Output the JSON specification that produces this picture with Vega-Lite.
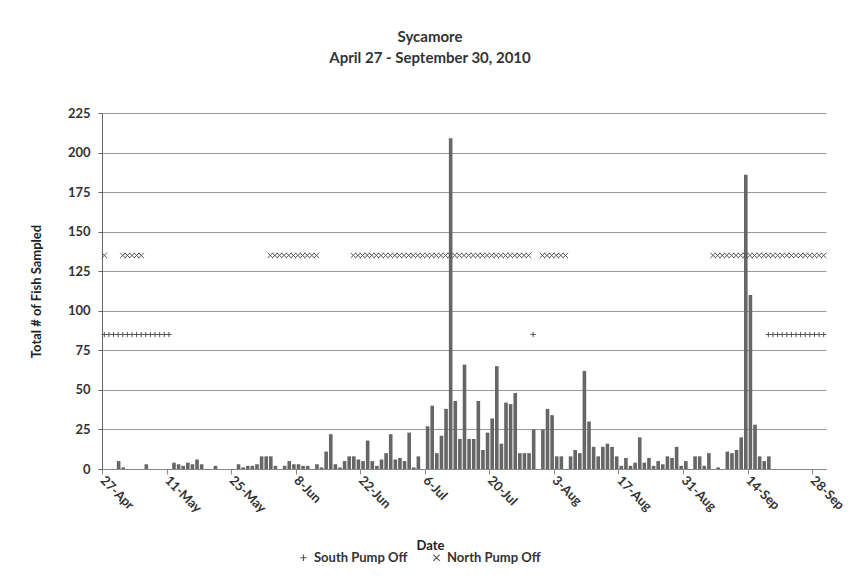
{
  "$schema": "https://vega.github.io/schema/vega-lite/v6.json",
  "width": 724,
  "height": 356,
  "autosize": {"type": "none"},
  "padding": {"left": 102, "top": 113, "right": 36, "bottom": 109},
  "background": "white",
  "title": {
    "text": ["Sycamore", "April 27 - September 30, 2010"],
    "font": "Lato", "fontSize": 15, "fontWeight": "bold", "color": "#333333",
    "lineHeight": 21, "anchor": "middle", "dx": -34, "offset": 41
  },
  "config": {
    "view": {"stroke": null},
    "font": "Lato",
    "axisX": {
      "format": "%-d-%b", "formatType": "utc",
      "labelAngle": 45, "labelAlign": "left", "labelBaseline": "middle",
      "labelFontSize": 13, "labelFontWeight": "bold", "labelColor": "#333333", "labelPadding": 4, "labelFlush": false, "labelOverlap": false,
      "grid": false, "domainColor": "#888888", "tickColor": "#888888", "tickSize": 5,
      "titleFontSize": 13, "titleFontWeight": "bold", "titleColor": "#222222",
      "titleX": 328, "titleY": 76, "titleAlign": "center", "titleBaseline": "middle"
    },
    "axisY": {
      "grid": true, "gridColor": "#999999", "gridWidth": 1, "labelOverlap": false,
      "domainColor": "#666666", "tickColor": "#666666", "tickSize": 4,
      "labelFontSize": 13, "labelFontWeight": "bold", "labelColor": "#333333", "labelPadding": 8,
      "titleFontSize": 13, "titleFontWeight": "bold", "titleColor": "#222222",
      "titlePadding": 24
    }
  },
  "datasets": {
    "fish": [
      {"date": "2010-04-30", "fish": 5}, {"date": "2010-05-01", "fish": 1}, {"date": "2010-05-06", "fish": 3},
      {"date": "2010-05-12", "fish": 4}, {"date": "2010-05-13", "fish": 3}, {"date": "2010-05-14", "fish": 2},
      {"date": "2010-05-15", "fish": 4}, {"date": "2010-05-16", "fish": 3}, {"date": "2010-05-17", "fish": 6},
      {"date": "2010-05-18", "fish": 3}, {"date": "2010-05-21", "fish": 2}, {"date": "2010-05-26", "fish": 3},
      {"date": "2010-05-27", "fish": 1}, {"date": "2010-05-28", "fish": 2}, {"date": "2010-05-29", "fish": 2},
      {"date": "2010-05-30", "fish": 3}, {"date": "2010-05-31", "fish": 8}, {"date": "2010-06-01", "fish": 8},
      {"date": "2010-06-02", "fish": 8}, {"date": "2010-06-03", "fish": 2}, {"date": "2010-06-05", "fish": 2},
      {"date": "2010-06-06", "fish": 5}, {"date": "2010-06-07", "fish": 3}, {"date": "2010-06-08", "fish": 3},
      {"date": "2010-06-09", "fish": 2}, {"date": "2010-06-10", "fish": 2}, {"date": "2010-06-12", "fish": 3},
      {"date": "2010-06-13", "fish": 1}, {"date": "2010-06-14", "fish": 11}, {"date": "2010-06-15", "fish": 22},
      {"date": "2010-06-16", "fish": 3}, {"date": "2010-06-17", "fish": 1}, {"date": "2010-06-18", "fish": 5},
      {"date": "2010-06-19", "fish": 8}, {"date": "2010-06-20", "fish": 8}, {"date": "2010-06-21", "fish": 6},
      {"date": "2010-06-22", "fish": 5}, {"date": "2010-06-23", "fish": 18}, {"date": "2010-06-24", "fish": 5},
      {"date": "2010-06-25", "fish": 2}, {"date": "2010-06-26", "fish": 6}, {"date": "2010-06-27", "fish": 10},
      {"date": "2010-06-28", "fish": 22}, {"date": "2010-06-29", "fish": 6}, {"date": "2010-06-30", "fish": 7},
      {"date": "2010-07-01", "fish": 5}, {"date": "2010-07-02", "fish": 23}, {"date": "2010-07-03", "fish": 1},
      {"date": "2010-07-04", "fish": 8}, {"date": "2010-07-06", "fish": 27}, {"date": "2010-07-07", "fish": 40},
      {"date": "2010-07-08", "fish": 10}, {"date": "2010-07-09", "fish": 21}, {"date": "2010-07-10", "fish": 38},
      {"date": "2010-07-11", "fish": 209}, {"date": "2010-07-12", "fish": 43}, {"date": "2010-07-13", "fish": 19},
      {"date": "2010-07-14", "fish": 66}, {"date": "2010-07-15", "fish": 19}, {"date": "2010-07-16", "fish": 19},
      {"date": "2010-07-17", "fish": 43}, {"date": "2010-07-18", "fish": 12}, {"date": "2010-07-19", "fish": 23},
      {"date": "2010-07-20", "fish": 32}, {"date": "2010-07-21", "fish": 65}, {"date": "2010-07-22", "fish": 16},
      {"date": "2010-07-23", "fish": 42}, {"date": "2010-07-24", "fish": 41}, {"date": "2010-07-25", "fish": 48},
      {"date": "2010-07-26", "fish": 10}, {"date": "2010-07-27", "fish": 10}, {"date": "2010-07-28", "fish": 10},
      {"date": "2010-07-29", "fish": 25}, {"date": "2010-07-31", "fish": 25}, {"date": "2010-08-01", "fish": 38},
      {"date": "2010-08-02", "fish": 34}, {"date": "2010-08-03", "fish": 8}, {"date": "2010-08-04", "fish": 8},
      {"date": "2010-08-06", "fish": 8}, {"date": "2010-08-07", "fish": 12}, {"date": "2010-08-08", "fish": 10},
      {"date": "2010-08-09", "fish": 62}, {"date": "2010-08-10", "fish": 30}, {"date": "2010-08-11", "fish": 14},
      {"date": "2010-08-12", "fish": 8}, {"date": "2010-08-13", "fish": 14}, {"date": "2010-08-14", "fish": 16},
      {"date": "2010-08-15", "fish": 14}, {"date": "2010-08-16", "fish": 8}, {"date": "2010-08-17", "fish": 2},
      {"date": "2010-08-18", "fish": 7}, {"date": "2010-08-19", "fish": 2}, {"date": "2010-08-20", "fish": 4},
      {"date": "2010-08-21", "fish": 20}, {"date": "2010-08-22", "fish": 4}, {"date": "2010-08-23", "fish": 7},
      {"date": "2010-08-24", "fish": 2}, {"date": "2010-08-25", "fish": 5}, {"date": "2010-08-26", "fish": 3},
      {"date": "2010-08-27", "fish": 8}, {"date": "2010-08-28", "fish": 7}, {"date": "2010-08-29", "fish": 14},
      {"date": "2010-08-30", "fish": 2}, {"date": "2010-08-31", "fish": 5}, {"date": "2010-09-02", "fish": 8},
      {"date": "2010-09-03", "fish": 8}, {"date": "2010-09-04", "fish": 2}, {"date": "2010-09-05", "fish": 10},
      {"date": "2010-09-07", "fish": 1}, {"date": "2010-09-09", "fish": 11}, {"date": "2010-09-10", "fish": 10},
      {"date": "2010-09-11", "fish": 12}, {"date": "2010-09-12", "fish": 20}, {"date": "2010-09-13", "fish": 186},
      {"date": "2010-09-14", "fish": 110}, {"date": "2010-09-15", "fish": 28}, {"date": "2010-09-16", "fish": 8},
      {"date": "2010-09-17", "fish": 5}, {"date": "2010-09-18", "fish": 8}
    ],
    "pumps": [
      {"date": "2010-04-27", "pump": "South Pump Off", "level": 85}, {"date": "2010-04-28", "pump": "South Pump Off", "level": 85},
      {"date": "2010-04-29", "pump": "South Pump Off", "level": 85}, {"date": "2010-04-30", "pump": "South Pump Off", "level": 85},
      {"date": "2010-05-01", "pump": "South Pump Off", "level": 85}, {"date": "2010-05-02", "pump": "South Pump Off", "level": 85},
      {"date": "2010-05-03", "pump": "South Pump Off", "level": 85}, {"date": "2010-05-04", "pump": "South Pump Off", "level": 85},
      {"date": "2010-05-05", "pump": "South Pump Off", "level": 85}, {"date": "2010-05-06", "pump": "South Pump Off", "level": 85},
      {"date": "2010-05-07", "pump": "South Pump Off", "level": 85}, {"date": "2010-05-08", "pump": "South Pump Off", "level": 85},
      {"date": "2010-05-09", "pump": "South Pump Off", "level": 85}, {"date": "2010-05-10", "pump": "South Pump Off", "level": 85},
      {"date": "2010-05-11", "pump": "South Pump Off", "level": 85},
      {"date": "2010-07-29", "pump": "South Pump Off", "level": 85},
      {"date": "2010-09-18", "pump": "South Pump Off", "level": 85}, {"date": "2010-09-19", "pump": "South Pump Off", "level": 85},
      {"date": "2010-09-20", "pump": "South Pump Off", "level": 85}, {"date": "2010-09-21", "pump": "South Pump Off", "level": 85},
      {"date": "2010-09-22", "pump": "South Pump Off", "level": 85}, {"date": "2010-09-23", "pump": "South Pump Off", "level": 85},
      {"date": "2010-09-24", "pump": "South Pump Off", "level": 85}, {"date": "2010-09-25", "pump": "South Pump Off", "level": 85},
      {"date": "2010-09-26", "pump": "South Pump Off", "level": 85}, {"date": "2010-09-27", "pump": "South Pump Off", "level": 85},
      {"date": "2010-09-28", "pump": "South Pump Off", "level": 85}, {"date": "2010-09-29", "pump": "South Pump Off", "level": 85},
      {"date": "2010-09-30", "pump": "South Pump Off", "level": 85},
      {"date": "2010-04-27", "pump": "North Pump Off", "level": 135},
      {"date": "2010-05-01", "pump": "North Pump Off", "level": 135}, {"date": "2010-05-02", "pump": "North Pump Off", "level": 135},
      {"date": "2010-05-03", "pump": "North Pump Off", "level": 135}, {"date": "2010-05-04", "pump": "North Pump Off", "level": 135},
      {"date": "2010-05-05", "pump": "North Pump Off", "level": 135},
      {"date": "2010-06-02", "pump": "North Pump Off", "level": 135}, {"date": "2010-06-03", "pump": "North Pump Off", "level": 135},
      {"date": "2010-06-04", "pump": "North Pump Off", "level": 135}, {"date": "2010-06-05", "pump": "North Pump Off", "level": 135},
      {"date": "2010-06-06", "pump": "North Pump Off", "level": 135}, {"date": "2010-06-07", "pump": "North Pump Off", "level": 135},
      {"date": "2010-06-08", "pump": "North Pump Off", "level": 135}, {"date": "2010-06-09", "pump": "North Pump Off", "level": 135},
      {"date": "2010-06-10", "pump": "North Pump Off", "level": 135}, {"date": "2010-06-11", "pump": "North Pump Off", "level": 135},
      {"date": "2010-06-12", "pump": "North Pump Off", "level": 135},
      {"date": "2010-06-20", "pump": "North Pump Off", "level": 135}, {"date": "2010-06-21", "pump": "North Pump Off", "level": 135},
      {"date": "2010-06-22", "pump": "North Pump Off", "level": 135}, {"date": "2010-06-23", "pump": "North Pump Off", "level": 135},
      {"date": "2010-06-24", "pump": "North Pump Off", "level": 135}, {"date": "2010-06-25", "pump": "North Pump Off", "level": 135},
      {"date": "2010-06-26", "pump": "North Pump Off", "level": 135}, {"date": "2010-06-27", "pump": "North Pump Off", "level": 135},
      {"date": "2010-06-28", "pump": "North Pump Off", "level": 135}, {"date": "2010-06-29", "pump": "North Pump Off", "level": 135},
      {"date": "2010-06-30", "pump": "North Pump Off", "level": 135}, {"date": "2010-07-01", "pump": "North Pump Off", "level": 135},
      {"date": "2010-07-02", "pump": "North Pump Off", "level": 135}, {"date": "2010-07-03", "pump": "North Pump Off", "level": 135},
      {"date": "2010-07-04", "pump": "North Pump Off", "level": 135}, {"date": "2010-07-05", "pump": "North Pump Off", "level": 135},
      {"date": "2010-07-06", "pump": "North Pump Off", "level": 135}, {"date": "2010-07-07", "pump": "North Pump Off", "level": 135},
      {"date": "2010-07-08", "pump": "North Pump Off", "level": 135}, {"date": "2010-07-09", "pump": "North Pump Off", "level": 135},
      {"date": "2010-07-10", "pump": "North Pump Off", "level": 135}, {"date": "2010-07-11", "pump": "North Pump Off", "level": 135},
      {"date": "2010-07-12", "pump": "North Pump Off", "level": 135}, {"date": "2010-07-13", "pump": "North Pump Off", "level": 135},
      {"date": "2010-07-14", "pump": "North Pump Off", "level": 135}, {"date": "2010-07-15", "pump": "North Pump Off", "level": 135},
      {"date": "2010-07-16", "pump": "North Pump Off", "level": 135}, {"date": "2010-07-17", "pump": "North Pump Off", "level": 135},
      {"date": "2010-07-18", "pump": "North Pump Off", "level": 135}, {"date": "2010-07-19", "pump": "North Pump Off", "level": 135},
      {"date": "2010-07-20", "pump": "North Pump Off", "level": 135}, {"date": "2010-07-21", "pump": "North Pump Off", "level": 135},
      {"date": "2010-07-22", "pump": "North Pump Off", "level": 135}, {"date": "2010-07-23", "pump": "North Pump Off", "level": 135},
      {"date": "2010-07-24", "pump": "North Pump Off", "level": 135}, {"date": "2010-07-25", "pump": "North Pump Off", "level": 135},
      {"date": "2010-07-26", "pump": "North Pump Off", "level": 135}, {"date": "2010-07-27", "pump": "North Pump Off", "level": 135},
      {"date": "2010-07-28", "pump": "North Pump Off", "level": 135},
      {"date": "2010-07-31", "pump": "North Pump Off", "level": 135}, {"date": "2010-08-01", "pump": "North Pump Off", "level": 135},
      {"date": "2010-08-02", "pump": "North Pump Off", "level": 135}, {"date": "2010-08-03", "pump": "North Pump Off", "level": 135},
      {"date": "2010-08-04", "pump": "North Pump Off", "level": 135}, {"date": "2010-08-05", "pump": "North Pump Off", "level": 135},
      {"date": "2010-09-06", "pump": "North Pump Off", "level": 135}, {"date": "2010-09-07", "pump": "North Pump Off", "level": 135},
      {"date": "2010-09-08", "pump": "North Pump Off", "level": 135}, {"date": "2010-09-09", "pump": "North Pump Off", "level": 135},
      {"date": "2010-09-10", "pump": "North Pump Off", "level": 135}, {"date": "2010-09-11", "pump": "North Pump Off", "level": 135},
      {"date": "2010-09-12", "pump": "North Pump Off", "level": 135}, {"date": "2010-09-13", "pump": "North Pump Off", "level": 135},
      {"date": "2010-09-14", "pump": "North Pump Off", "level": 135}, {"date": "2010-09-15", "pump": "North Pump Off", "level": 135},
      {"date": "2010-09-16", "pump": "North Pump Off", "level": 135}, {"date": "2010-09-17", "pump": "North Pump Off", "level": 135},
      {"date": "2010-09-18", "pump": "North Pump Off", "level": 135}, {"date": "2010-09-19", "pump": "North Pump Off", "level": 135},
      {"date": "2010-09-20", "pump": "North Pump Off", "level": 135}, {"date": "2010-09-21", "pump": "North Pump Off", "level": 135},
      {"date": "2010-09-22", "pump": "North Pump Off", "level": 135}, {"date": "2010-09-23", "pump": "North Pump Off", "level": 135},
      {"date": "2010-09-24", "pump": "North Pump Off", "level": 135}, {"date": "2010-09-25", "pump": "North Pump Off", "level": 135},
      {"date": "2010-09-26", "pump": "North Pump Off", "level": 135}, {"date": "2010-09-27", "pump": "North Pump Off", "level": 135},
      {"date": "2010-09-28", "pump": "North Pump Off", "level": 135}, {"date": "2010-09-29", "pump": "North Pump Off", "level": 135},
      {"date": "2010-09-30", "pump": "North Pump Off", "level": 135}
    ]
  },
  "layer": [
    {
      "data": {"name": "fish"},
      "mark": {"type": "bar", "color": "#666666", "timeUnitBandSize": 0.45},
      "encoding": {
        "x": {
          "field": "date", "type": "temporal", "timeUnit": "utcyearmonthdate",
          "scale": {"domain": [{"year": 2010, "month": 4, "date": 27, "utc": true}, {"year": 2010, "month": 10, "date": 1, "utc": true}]},
          "axis": {
            "title": "Date",
            "values": [
              {"year": 2010, "month": 4, "date": 27, "utc": true}, {"year": 2010, "month": 5, "date": 11, "utc": true},
              {"year": 2010, "month": 5, "date": 25, "utc": true}, {"year": 2010, "month": 6, "date": 8, "utc": true},
              {"year": 2010, "month": 6, "date": 22, "utc": true}, {"year": 2010, "month": 7, "date": 6, "utc": true},
              {"year": 2010, "month": 7, "date": 20, "utc": true}, {"year": 2010, "month": 8, "date": 3, "utc": true},
              {"year": 2010, "month": 8, "date": 17, "utc": true}, {"year": 2010, "month": 8, "date": 31, "utc": true},
              {"year": 2010, "month": 9, "date": 14, "utc": true}, {"year": 2010, "month": 9, "date": 28, "utc": true}
            ],
            "format": "%-d-%b", "formatType": "utc"
          }
        },
        "y": {
          "field": "fish", "type": "quantitative",
          "scale": {"domain": [0, 225], "nice": false},
          "axis": {"title": "Total # of Fish Sampled", "values": [0, 25, 50, 75, 100, 125, 150, 175, 200, 225]}
        }
      }
    },
    {
      "data": {"name": "pumps"},
      "mark": {"type": "point", "filled": false, "stroke": "#555555", "strokeWidth": 1, "size": 28, "opacity": 1},
      "encoding": {
        "x": {
          "field": "date", "type": "temporal", "timeUnit": "utcyearmonthdate", "bandPosition": 0.5,
          "axis": {
            "title": "Date",
            "values": [
              {"year": 2010, "month": 4, "date": 27, "utc": true}, {"year": 2010, "month": 5, "date": 11, "utc": true},
              {"year": 2010, "month": 5, "date": 25, "utc": true}, {"year": 2010, "month": 6, "date": 8, "utc": true},
              {"year": 2010, "month": 6, "date": 22, "utc": true}, {"year": 2010, "month": 7, "date": 6, "utc": true},
              {"year": 2010, "month": 7, "date": 20, "utc": true}, {"year": 2010, "month": 8, "date": 3, "utc": true},
              {"year": 2010, "month": 8, "date": 17, "utc": true}, {"year": 2010, "month": 8, "date": 31, "utc": true},
              {"year": 2010, "month": 9, "date": 14, "utc": true}, {"year": 2010, "month": 9, "date": 28, "utc": true}
            ],
            "format": "%-d-%b", "formatType": "utc"
          }
        },
        "y": {
          "field": "level", "type": "quantitative",
          "axis": {"title": "Total # of Fish Sampled", "values": [0, 25, 50, 75, 100, 125, 150, 175, 200, 225]}
        },
        "shape": {
          "field": "pump", "type": "nominal",
          "scale": {"domain": ["South Pump Off", "North Pump Off"], "range": ["M-1,0L1,0M0,-1L0,1", "M-1,-1L1,1M-1,1L1,-1"]},
          "legend": {
            "title": null, "orient": "none", "direction": "horizontal", "legendX": 195, "legendY": 438,
            "labelFontSize": 13, "labelFontWeight": "bold", "labelColor": "#333333",
            "symbolStrokeColor": "#555555", "symbolStrokeWidth": 1.2, "symbolSize": 40, "columnPadding": 22
          }
        }
      }
    }
  ]
}
